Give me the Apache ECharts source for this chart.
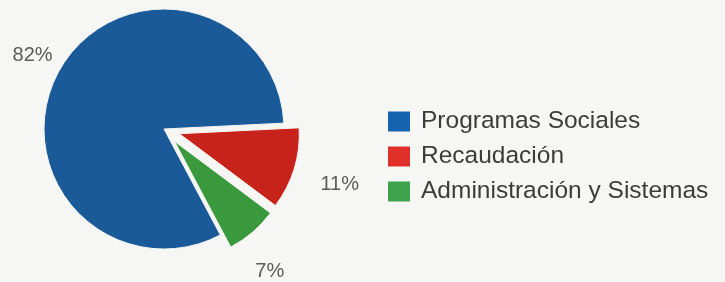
<!DOCTYPE html>
<html>
<head>
<meta charset="utf-8">
<title>Distribución del gasto</title>
<script src="https://cdn.jsdelivr.net/npm/echarts@6/dist/echarts.min.js"></script>
<style>
  html, body {
    margin: 0;
    padding: 0;
    background: #f6f6f4;
  }
  #chart {
    width: 725px;
    height: 282px;
  }
</style>
</head>
<body>
<div id="chart"></div>
<script>
// categorias y porcentajes
var categorias = ['Programas Sociales', 'Recaudación', 'Administración y Sistemas']
var valores = [82, 11, 7]
var colores = ['#1b5a98', '#c8231b', '#3b993d']
var coloresLeyenda = ['#1663b0', '#e0302a', '#3ca34a']
var separadas = [false, true, true]

// ajuste fino de las etiquetas (px)
var ajusteEtiquetas = [[11, -7], [7, 11], [-12, 28]]

var chart = echarts.init(document.getElementById('chart'))

var datos = categorias.map(function(nombre, i) {
  return {
    name: nombre,
    value: valores[i],
    selected: separadas[i],
    itemStyle: { color: colores[i] }
  }
})

var option = {
  animation: false,
  backgroundColor: '#f6f6f4',
  legend: {
    orient: 'vertical',
    left: 386,
    top: 109,
    padding: 0,
    itemWidth: 24,
    itemHeight: 22,
    itemGap: 10,
    icon: 'rect',
    selectedMode: false,
    data: categorias.map(function(nombre, i) {
      return { name: nombre, itemStyle: { color: coloresLeyenda[i] } }
    }),
    textStyle: {
      fontFamily: 'Liberation Sans',
      fontSize: 24.5,
      lineHeight: 22,
      padding: [0, 0, 0, 5],
      color: '#3c3c3c'
    }
  },
  series: [
    {
      type: 'pie',
      center: [164, 129],
      radius: 120,
      startAngle: 298,
      selectedMode: 'multiple',
      selectedOffset: 16,
      select: { itemStyle: {} },
      emphasis: { disabled: true },
      avoidLabelOverlap: false,
      itemStyle: {
        borderColor: '#f6f6f4',
        borderWidth: 1
      },
      label: {
        show: true,
        position: 'outside',
        formatter: '{c}%',
        overflow: 'none',
        fontFamily: 'Liberation Sans',
        fontSize: 20,
        color: '#5a5a5a'
      },
      labelLine: { show: false, length: 15, length2: 0 },
      labelLayout: function(params) {
        var a = ajusteEtiquetas[params.dataIndex]
        return { dx: a[0], dy: a[1] }
      },
      data: datos
    }
  ]
}

chart.setOption(option)
</script>
</body>
</html>
